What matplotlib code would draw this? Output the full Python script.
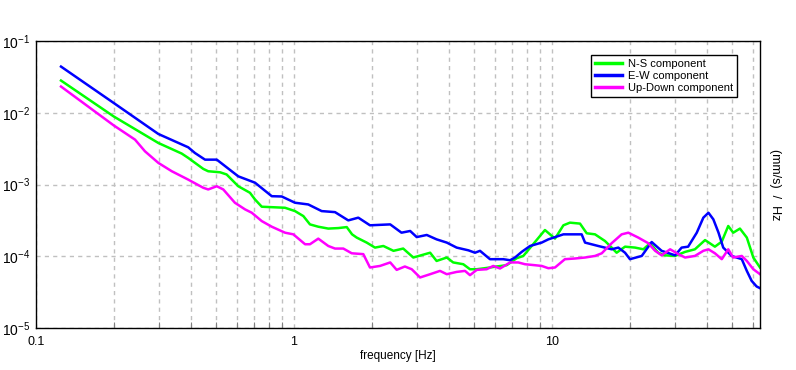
import numpy as np
import matplotlib
matplotlib.use("Agg")
import matplotlib.pyplot as plt
from matplotlib.ticker import LogLocator, FixedLocator, FuncFormatter, NullFormatter

plt.rcParams['font.family'] = ['Liberation Sans', 'DejaVu Sans']
plt.rcParams['mathtext.fontset'] = 'custom'
plt.rcParams['mathtext.rm'] = 'Liberation Sans'

# E-W component
ew_freq = [0.125, 0.2, 0.298, 0.389, 0.413, 0.452, 0.502, 0.608, 0.706, 0.82, 0.896,
           1.009, 1.136, 1.28, 1.442, 1.623, 1.775, 1.97, 2.36, 2.61, 2.82, 2.99, 3.27,
           3.57, 3.91, 4.27, 4.74, 5.03, 5.26, 5.75, 6.47, 6.88, 7.19, 7.63, 8.22, 9.12,
           9.68, 11.07, 13.03, 13.43, 15.11, 17.03, 18.07, 19.19, 20.05, 22.28, 24.34,
           26.6, 30.0, 31.8, 33.7, 36.4, 38.6, 40.4, 42.2, 44.2, 46.1, 49.7, 54.4, 56.9,
           59.4, 62.1, 64.0]
ew_psd = [4.4e-2, 1.37e-2, 5.06e-3, 3.30e-3, 2.75e-3, 2.22e-3, 2.22e-3, 1.30e-3, 1.06e-3,
          6.87e-4, 6.81e-4, 5.57e-4, 5.27e-4, 4.26e-4, 4.12e-4, 3.16e-4, 3.45e-4, 2.70e-4,
          2.78e-4, 2.13e-4, 2.25e-4, 1.85e-4, 1.98e-4, 1.72e-4, 1.55e-4, 1.32e-4, 1.21e-4,
          1.12e-4, 1.19e-4, 9.1e-5, 9.1e-5, 8.8e-5, 9.6e-5, 1.15e-4, 1.39e-4, 1.55e-4,
          1.72e-4, 2.02e-4, 2.02e-4, 1.55e-4, 1.39e-4, 1.25e-4, 1.32e-4, 1.12e-4, 9.1e-5,
          1.01e-4, 1.58e-4, 1.19e-4, 1.03e-4, 1.32e-4, 1.36e-4, 2.13e-4, 3.45e-4, 4.04e-4,
          3.27e-4, 2.13e-4, 1.32e-4, 1.01e-4, 9.1e-5, 6.25e-5, 4.54e-5, 3.79e-5, 3.59e-5]

# N-S component
ns_freq = [0.125, 0.2, 0.298, 0.367, 0.389, 0.445, 0.465, 0.517, 0.548, 0.608, 0.675,
           0.706, 0.75, 0.923, 1.009, 1.087, 1.153, 1.242, 1.358, 1.485, 1.601, 1.679,
           1.75, 1.913, 2.06, 2.22, 2.43, 2.65, 2.9, 3.37, 3.57, 3.91, 4.14, 4.53, 4.81,
           5.11, 5.75, 6.1, 6.67, 7.3, 7.74, 8.34, 9.39, 10.27, 11.07, 11.74, 12.84, 13.63,
           14.68, 16.05, 17.03, 17.8, 19.19, 21.0, 22.6, 24.0, 25.8, 27.4, 30.0, 32.8,
           35.8, 39.2, 42.8, 45.5, 48.2, 50.4, 53.5, 56.9, 60.3, 64.0]
ns_psd = [2.81e-2, 8.89e-3, 3.79e-3, 2.70e-3, 2.35e-3, 1.65e-3, 1.53e-3, 1.48e-3, 1.38e-3,
          9.46e-4, 7.67e-4, 6.19e-4, 4.90e-4, 4.74e-4, 4.26e-4, 3.63e-4, 2.78e-4, 2.58e-4,
          2.43e-4, 2.47e-4, 2.55e-4, 2.02e-4, 1.82e-4, 1.55e-4, 1.32e-4, 1.39e-4, 1.19e-4,
          1.28e-4, 9.6e-5, 1.12e-4, 8.6e-5, 9.6e-5, 8.2e-5, 7.74e-5, 6.59e-5, 6.59e-5,
          6.97e-5, 7.2e-5, 7.5e-5, 9.4e-5, 1.01e-4, 1.39e-4, 2.32e-4, 1.76e-4, 2.70e-4,
          2.94e-4, 2.85e-4, 2.09e-4, 2.02e-4, 1.63e-4, 1.32e-4, 1.12e-4, 1.36e-4, 1.32e-4,
          1.25e-4, 1.52e-4, 1.12e-4, 1.03e-4, 1.01e-4, 1.15e-4, 1.25e-4, 1.68e-4, 1.36e-4,
          1.6e-4, 2.64e-4, 2.13e-4, 2.43e-4, 1.82e-4, 9.6e-5, 6.97e-5]

# Up-Down component
ud_freq = [0.125, 0.2, 0.242, 0.2645, 0.298, 0.336, 0.389, 0.445, 0.465, 0.502, 0.532,
           0.59, 0.646, 0.686, 0.75, 0.82, 0.923, 0.994, 1.104, 1.153, 1.242, 1.358,
           1.442, 1.553, 1.674, 1.856, 1.97, 2.155, 2.36, 2.5, 2.69, 2.86, 3.08, 3.37,
           3.68, 3.91, 4.27, 4.6, 4.81, 5.11, 5.58, 5.92, 6.29, 6.88, 7.4, 7.86, 8.59,
           9.12, 9.68, 10.27, 11.22, 12.27, 13.43, 14.68, 15.59, 17.03, 18.62, 19.76,
           21.6, 23.6, 25.1, 26.6, 28.7, 30.9, 32.8, 35.8, 38.6, 40.4, 42.8, 45.5, 48.2,
           50.4, 54.4, 56.9, 60.3, 64.0]
ud_psd = [2.32e-2, 6.67e-3, 4.22e-3, 2.90e-3, 2.00e-3, 1.53e-3, 1.17e-3, 9.0e-4, 8.53e-4,
          9.46e-4, 8.53e-4, 5.57e-4, 4.50e-4, 4.04e-4, 3.09e-4, 2.58e-4, 2.13e-4, 2.02e-4,
          1.47e-4, 1.47e-4, 1.76e-4, 1.39e-4, 1.28e-4, 1.28e-4, 1.10e-4, 1.07e-4, 6.97e-5,
          7.33e-5, 8.2e-5, 6.46e-5, 7.2e-5, 6.59e-5, 5.06e-5, 5.62e-5, 6.25e-5, 5.62e-5,
          6.05e-5, 6.25e-5, 5.45e-5, 6.46e-5, 6.59e-5, 7.33e-5, 6.75e-5, 8.2e-5, 8.2e-5,
          7.74e-5, 7.5e-5, 7.33e-5, 6.81e-5, 6.97e-5, 9.1e-5, 9.3e-5, 9.6e-5, 1.01e-4,
          1.10e-4, 1.52e-4, 2.02e-4, 2.13e-4, 1.82e-4, 1.52e-4, 1.19e-4, 1.03e-4, 1.25e-4,
          1.07e-4, 9.6e-5, 1.01e-4, 1.19e-4, 1.25e-4, 1.10e-4, 9.1e-5, 1.25e-4, 9.6e-5,
          1.01e-4, 8.6e-5, 6.59e-5, 5.62e-5]

x_ticks = [0.1, 1, 10]

fig = plt.figure(figsize=(7.96, 3.70), dpi=100)
ax = fig.add_axes([36 / 796, 42 / 370, 724 / 796, 287 / 370])

ax.plot(ns_freq, ns_psd, color="#00ff00", lw=1.8, label="N-S component")
ax.plot(ew_freq, ew_psd, color="#0000ff", lw=1.8, label="E-W component")
ax.plot(ud_freq, ud_psd, color="#ff00ff", lw=1.8, label="Up-Down component")

ax.set_xscale("log")
ax.set_yscale("log")
ax.set_xlim(0.1, 64)
ax.set_ylim(1e-5, 1e-1)

ax.xaxis.set_major_locator(FixedLocator(x_ticks))
ax.xaxis.set_major_formatter(FuncFormatter(lambda v, p: f"{v:g}"))
ax.xaxis.set_minor_locator(LogLocator(base=10, subs=np.arange(2, 10)))
ax.xaxis.set_minor_formatter(NullFormatter())
ax.yaxis.set_major_locator(LogLocator(base=10, numticks=10))
ax.yaxis.set_minor_locator(LogLocator(base=10, subs=[]))

ax.grid(True, which="both", axis="x", color="#c0c0c0", linestyle=(0, (3, 3)), lw=1)
ax.grid(True, which="major", axis="y", color="#c0c0c0", linestyle=(0, (3, 3)), lw=1)

ax.tick_params(axis="x", which="major", direction="in", length=0, labelsize=9, pad=6)
ax.tick_params(axis="x", which="minor", direction="in", length=4, width=0.8, color="#808080")
ax.tick_params(axis="y", which="both", length=0, labelsize=10, pad=4)

for s in ax.spines.values():
    s.set_color("black")
    s.set_linewidth(1)

ax.set_xlabel("frequency [Hz]", fontsize=8.5, labelpad=1)
ax.text(1.021, 0.5, "(mm/s)  /  Hz", transform=ax.transAxes, rotation=270,
        ha="center", va="center", fontsize=9)

leg = ax.legend(loc="upper right", bbox_to_anchor=(737 / 796, 1 - 55 / 370),
                bbox_transform=fig.transFigure, borderaxespad=0, fontsize=8,
                fancybox=False, framealpha=1, edgecolor="black",
                handlelength=2.5, handletextpad=0.5, labelspacing=0.2, borderpad=0.35)
leg.get_frame().set_linewidth(1)
for line in leg.get_lines():
    line.set_linewidth(2.5)

fig.savefig("out.png", dpi=100)
